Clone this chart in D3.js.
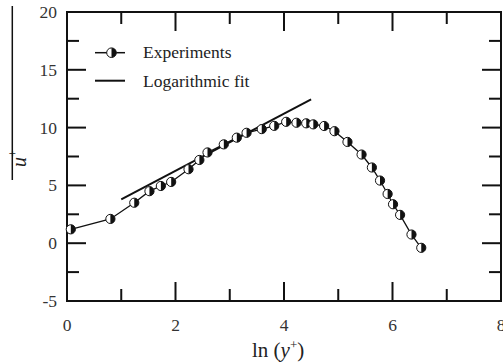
<!DOCTYPE html>
<html><head><meta charset="utf-8">
<script src="https://cdn.jsdelivr.net/npm/d3@7"></script>
<style>body{margin:0;background:#fff}svg{display:block}</style>
</head><body><svg id="c" width="503" height="363" font-family="'Liberation Serif', 'Times New Roman', Tinos, 'DejaVu Serif', serif"></svg>
<script>
const lnY = [0.07,0.80,1.24,1.52,1.73,1.92,2.24,2.44,2.59,2.89,3.13,3.31,3.59,3.82,4.04,4.23,4.41,4.54,4.74,4.93,5.17,5.43,5.62,5.77,5.91,6.01,6.14,6.35,6.53];
const uPlus = [1.2,2.1,3.5,4.5,4.95,5.3,6.4,7.2,7.85,8.55,9.13,9.55,9.87,10.15,10.5,10.42,10.37,10.28,10.14,9.69,8.76,7.67,6.55,5.42,4.26,3.37,2.45,0.75,-0.4];
const fitX = [1.0,4.5];
const fitY = [3.8,12.45];
const xTicks = [0,2,4,6,8];
const yTicks = [-5,0,5,10,15,20];
const legendLabels = ["Experiments","Logarithmic fit"];

const svg = d3.select("#c");
const L=67,R=501,T=12,B=301;
const x = d3.scaleLinear().domain([0,8]).range([L,R]);
const y = d3.scaleLinear().domain([-5,20]).range([B,T]);
const ink="#111";

svg.append("rect").attr("x",L).attr("y",T).attr("width",R-L).attr("height",B-T)
  .attr("fill","none").attr("stroke",ink).attr("stroke-width",2);

const major=19, minor=12;
d3.range(0,8.01,1).forEach(v=>{
  const len = v%2===0?major:minor;
  if(v>0&&v<8){
    svg.append("line").attr("x1",x(v)).attr("x2",x(v)).attr("y1",B).attr("y2",B-len).attr("stroke",ink).attr("stroke-width",2);
    svg.append("line").attr("x1",x(v)).attr("x2",x(v)).attr("y1",T).attr("y2",T+len).attr("stroke",ink).attr("stroke-width",2);
  }
});
d3.range(-5,20.01,2.5).forEach(v=>{
  const len = v%5===0?major:minor;
  if(v>-5&&v<20){
    svg.append("line").attr("y1",y(v)).attr("y2",y(v)).attr("x1",L).attr("x2",L+len).attr("stroke",ink).attr("stroke-width",2);
    svg.append("line").attr("y1",y(v)).attr("y2",y(v)).attr("x1",R).attr("x2",R-len).attr("stroke",ink).attr("stroke-width",2);
  }
});

svg.selectAll("text.xt").data(xTicks).enter().append("text")
  .attr("x",d=>x(d)).attr("y",331).attr("text-anchor","middle")
  .attr("font-size",17.5).attr("fill","#333").text(d=>d);
svg.selectAll("text.yt").data(yTicks).enter().append("text")
  .attr("x",57).attr("y",d=>y(d)+6).attr("text-anchor","end")
  .attr("font-size",17.5).attr("fill","#333").text(d=>d);

const xt = svg.append("text").attr("x",252).attr("y",356.5).attr("font-size",21).attr("fill","#222");
xt.append("tspan").text("ln (");
xt.append("tspan").attr("font-style","italic").text("y");
xt.append("tspan").attr("font-size",13).attr("dy",-8).text("+");
xt.append("tspan").attr("dy",8).text(")");

const yt = svg.append("text").attr("transform","translate(26,167) rotate(-90)").attr("font-size",20).attr("fill","#222");
yt.append("tspan").attr("font-style","italic").text("u");
yt.append("tspan").attr("font-size",12).attr("dy",-9).text("+");
svg.append("line").attr("x1",12.3).attr("x2",12.3).attr("y1",6).attr("y2",180).attr("stroke",ink).attr("stroke-width",1.5);

svg.append("line").attr("x1",x(fitX[0])).attr("y1",y(fitY[0])).attr("x2",x(fitX[1])).attr("y2",y(fitY[1]))
  .attr("stroke",ink).attr("stroke-width",2);

const pts = lnY.map((v,i)=>[v,uPlus[i]]);
svg.append("path").attr("d",d3.line().x(d=>x(d[0])).y(d=>y(d[1]))(pts))
  .attr("fill","none").attr("stroke",ink).attr("stroke-width",1.3);

function marker(g,cx,cy,r){
  g.append("circle").attr("cx",cx).attr("cy",cy).attr("r",r).attr("fill","#fff").attr("stroke",ink).attr("stroke-width",1);
  g.append("path").attr("d",`M${cx},${cy-r} A${r},${r} 0 0 1 ${cx},${cy+r} Z`).attr("fill",ink);
}
const mg = svg.append("g");
pts.forEach(p=>marker(mg,x(p[0]),y(p[1]),4.6));

svg.append("line").attr("x1",95).attr("x2",125).attr("y1",52.7).attr("y2",52.7).attr("stroke",ink).attr("stroke-width",1.5);
marker(svg,111.5,52.7,4.8);
svg.append("line").attr("x1",95).attr("x2",125).attr("y1",80.7).attr("y2",80.7).attr("stroke",ink).attr("stroke-width",2);
svg.selectAll("text.lg").data(legendLabels).enter().append("text")
  .attr("x",143).attr("y",(d,i)=>58+i*28.5).attr("font-size",17.5).attr("fill","#222").text(d=>d);
</script></body></html>
